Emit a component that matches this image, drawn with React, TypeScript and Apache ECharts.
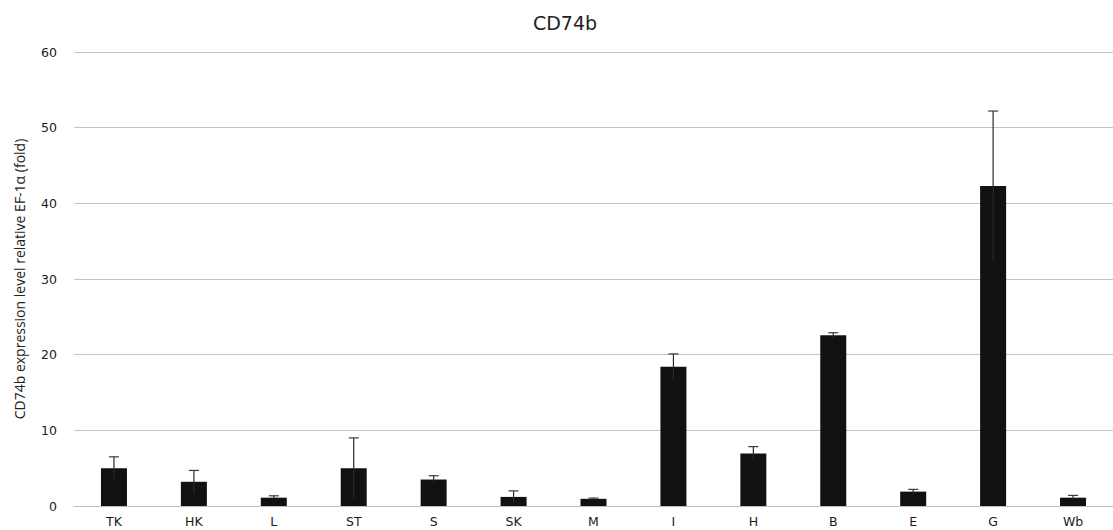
import React, { useEffect, useRef } from "react";
import * as echarts from "echarts";

const categories = ["TK", "HK", "L", "ST", "S", "SK", "M", "I", "H", "B", "E", "G", "Wb"];
const means = [5.0, 3.2, 1.1, 5.0, 3.5, 1.2, 0.95, 18.4, 6.95, 22.55, 1.9, 42.3, 1.1];
const upperErrors = [6.5, 4.7, 1.35, 9.0, 4.0, 2.0, 1.05, 20.1, 7.85, 22.9, 2.2, 52.2, 1.4];
const yTicks = [0, 10, 20, 30, 40, 50, 60];

export default function App() {
  const ref = useRef<HTMLDivElement>(null);
  useEffect(() => {
    if (!ref.current) return;
    const chart = echarts.init(ref.current, null, { renderer: "svg" });
    const wide = "'DejaVu Sans', sans-serif";
    const font = "'Open Sans', 'Noto Sans', sans-serif";
    chart.setOption({
      animation: false,
      textStyle: { fontFamily: wide },
      title: {
        text: "CD74b",
        left: 560,
        top: 8,
        textAlign: "center",
        textStyle: { fontSize: 19, fontWeight: "normal", color: "#222", fontFamily: wide },
      },
      grid: { left: 74, top: 52, width: 1045, height: 454, containLabel: false },
      xAxis: {
        type: "category",
        data: categories,
        axisLine: { show: true, lineStyle: { color: "#bdbdbd", width: 1 } },
        axisTick: { show: false },
        axisLabel: { color: "#1a1a1a", fontSize: 12.5, margin: 9, fontFamily: wide },
      },
      yAxis: {
        type: "value",
        min: yTicks[0],
        max: yTicks[yTicks.length - 1],
        interval: 10,
        name: "CD74b expression level relative EF-1\u03b1 (fold)",
        nameLocation: "middle",
        nameGap: 48,
        nameTextStyle: { color: "#222", fontSize: 14, fontFamily: font },
        axisLine: { show: false },
        axisTick: { show: false },
        axisLabel: { color: "#1a1a1a", fontSize: 12.5, margin: 17, fontFamily: wide },
        splitLine: { lineStyle: { color: "#c4c4c4", width: 1 } },
      },
      series: [
        {
          type: "bar",
          data: means,
          barWidth: 26,
          itemStyle: { color: "#111111" },
        },
        {
          type: "custom",
          data: categories.map((_, i) => [i, means[i], upperErrors[i]]),
          z: 10,
          renderItem: (params: any, api: any) => {
            const x = api.value(0);
            const hi = api.coord([x, api.value(2)]);
            const base = api.coord([x, Math.max(0, api.value(1) - (api.value(2) - api.value(1)))]);
            const style = { stroke: "#3a3a3a", lineWidth: 1.2 };
            return {
              type: "group",
              children: [
                { type: "line", shape: { x1: hi[0], y1: base[1], x2: hi[0], y2: hi[1] }, style: { stroke: "#2a2a2a", lineWidth: 1.2 } },
                { type: "line", shape: { x1: hi[0] - 5, y1: hi[1], x2: hi[0] + 5, y2: hi[1] }, style },
              ],
            };
          },
        },
      ],
    });
    return () => chart.dispose();
  }, []);
  return <div ref={ref} style={{ width: 1113, height: 530, position: "absolute", left: 0, top: 0 }} />;
}
